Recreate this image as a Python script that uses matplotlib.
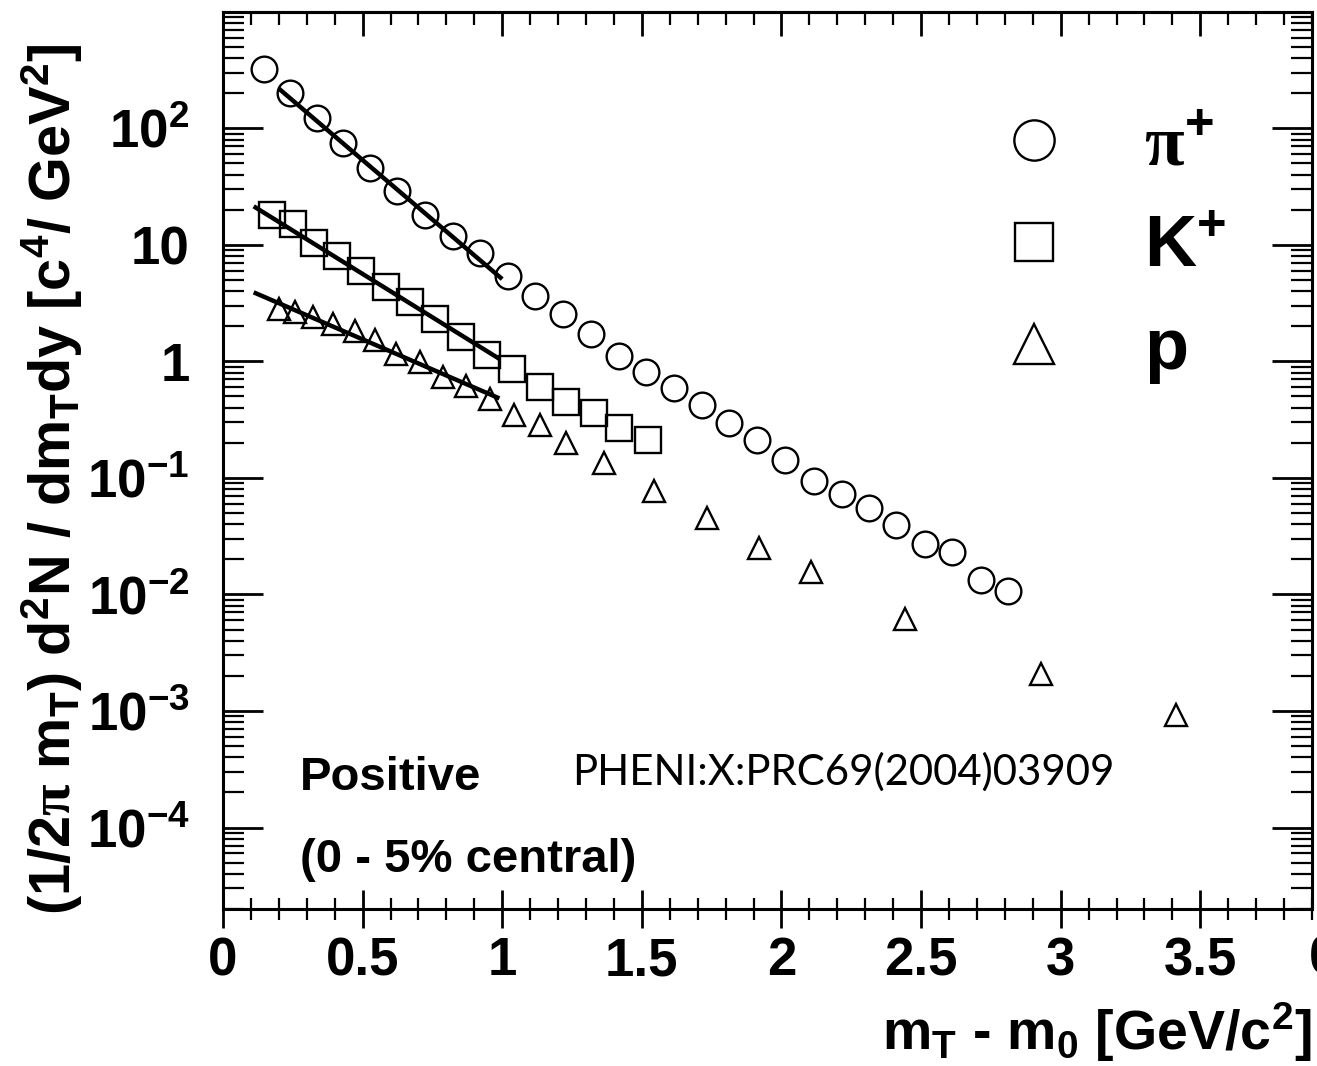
import matplotlib
matplotlib.use('Agg')
import matplotlib.pyplot as plt
from matplotlib.ticker import MultipleLocator, LogLocator, NullFormatter
from matplotlib.lines import Line2D

plt.rcParams.update({
    'font.family': 'Liberation Sans',
    'font.weight': 'bold',
    'mathtext.fontset': 'custom',
    'mathtext.rm': 'Liberation Sans:bold',
    'mathtext.it': 'Liberation Sans:bold',
    'mathtext.bf': 'Liberation Sans:bold',
    'mathtext.sf': 'Liberation Serif',
    'mathtext.default': 'rm',
})

# pi+ spectrum (mT - m0, yield)
pi_x = [0.147, 0.240, 0.335, 0.430, 0.526, 0.623, 0.722, 0.824, 0.919, 1.020,
        1.119, 1.217, 1.319, 1.417, 1.515, 1.617, 1.716, 1.813, 1.912, 2.014,
        2.117, 2.216, 2.314, 2.410, 2.514, 2.612, 2.714, 2.812]
pi_y = [325, 199, 122, 74.5, 45.6, 28.8, 18.2, 11.9, 8.45, 5.42,
        3.66, 2.55, 1.72, 1.12, 0.812, 0.593, 0.421, 0.294, 0.212, 0.143,
        0.0935, 0.0733, 0.0553, 0.0394, 0.0269, 0.0233, 0.0133, 0.0108]

# K+ spectrum
k_x = [0.174, 0.251, 0.325, 0.407, 0.496, 0.585, 0.669, 0.758, 0.854, 0.945,
       1.036, 1.134, 1.229, 1.327, 1.420, 1.521]
k_y = [18.2, 15.0, 10.4, 8.02, 5.97, 4.31, 3.22, 2.31, 1.61, 1.14,
       0.867, 0.605, 0.451, 0.358, 0.267, 0.212]

# proton spectrum
p_x = [0.200, 0.258, 0.323, 0.394, 0.472, 0.544, 0.621, 0.705, 0.788, 0.872,
       0.955, 1.044, 1.134, 1.229, 1.366, 1.544, 1.732, 1.918, 2.105, 2.443,
       2.928, 3.414]
p_y = [2.82, 2.64, 2.39, 2.10, 1.82, 1.51, 1.16, 0.989, 0.736, 0.612,
       0.471, 0.346, 0.284, 0.199, 0.134, 0.0773, 0.0455, 0.0252, 0.0157, 0.00614,
       0.00208, 0.00093]

# exponential fits (straight on log scale), end points
pi_fit_x = [0.20, 1.00]
pi_fit_y = [219, 5.08]
k_fit_x = [0.11, 0.99]
k_fit_y = [21.4, 1.05]
p_fit_x = [0.11, 0.99]
p_fit_y = [3.91, 0.481]

y_ticks = [1e-4, 1e-3, 1e-2, 1e-1, 1, 10, 100]
y_tick_labels = [r'10$^{-4}$', r'10$^{-3}$', r'10$^{-2}$', r'10$^{-1}$', '1', '10', r'10$^{2}$']
x_ticks = [0, 0.5, 1, 1.5, 2, 2.5, 3, 3.5]
x_tick_labels = ['0', '0.5', '1', '1.5', '2', '2.5', '3', '3.5']

fig = plt.figure(figsize=(13.17, 10.66), dpi=100)
fig.patch.set_facecolor('white')
ax = fig.add_axes([0.1693, 0.1473, 0.8269, 0.8417])
ax.set_yscale('log')
ax.set_xlim(0, 3.9)
ax.set_ylim(2e-5, 1000)

mk = dict(linestyle='none', mfc='none', mec='black', mew=1.7)
ax.plot(pi_x, pi_y, marker='o', ms=18.5, **mk)
ax.plot(k_x, k_y, marker='s', ms=19, **mk)
ax.plot(p_x, p_y, marker='^', ms=16.5, **mk)

for fx, fy in [(pi_fit_x, pi_fit_y), (k_fit_x, k_fit_y), (p_fit_x, p_fit_y)]:
    ax.plot(fx, fy, color='black', lw=3.2, solid_capstyle='butt', zorder=5)

# ticks
ax.set_xticks(x_ticks)
ax.set_xticklabels(x_tick_labels)
ax.xaxis.set_minor_locator(MultipleLocator(0.1))
ax.set_yticks(y_ticks)
ax.set_yticklabels(y_tick_labels)
ax.yaxis.set_minor_locator(LogLocator(base=10, subs=range(2, 10), numticks=30))
ax.yaxis.set_minor_formatter(NullFormatter())

ax.tick_params(axis='x', which='major', direction='inout', length=27, width=2, pad=6,
               labelsize=38, bottom=True, top=False)
ax.tick_params(axis='x', which='minor', direction='inout', length=16, width=1.6,
               bottom=True, top=False)
ax.tick_params(axis='y', which='major', direction='in', length=29, width=2, pad=24,
               labelsize=38, left=True, right=True)
ax.tick_params(axis='y', which='minor', direction='in', length=15, width=1.6,
               left=True, right=True)

sec = ax.secondary_xaxis('top')
sec.set_xticks(x_ticks)
sec.xaxis.set_minor_locator(MultipleLocator(0.1))
sec.tick_params(axis='x', which='major', direction='in', length=17, width=2, labeltop=False)
sec.tick_params(axis='x', which='minor', direction='in', length=9, width=1.6)
sec.spines['top'].set_linewidth(2.2)

for s in ax.spines.values():
    s.set_linewidth(2.2)

# partially visible label at the right edge (cut in the original too)
fig.text(1309 / 1317, 1 - 960 / 1066, '0', fontsize=38, ha='left', va='center')

# axis titles
fig.text(52 / 1317, 1 - 480 / 1066,
         r'(1/2$\mathsf{\pi}$ m$_{T}$) d$^{2}$N / dm$_{T}$dy [c$^{4}$/ GeV$^{2}$]',
         rotation=90, ha='center', va='center', fontsize=41.5)
fig.text(1311 / 1317, 1 - 1032 / 1066, r'm$_{T}$ - m$_{0}$ [GeV/c$^{2}$]',
         ha='right', va='center', fontsize=40)

# annotations
ax.text(0.0707, 0.146, 'Positive', transform=ax.transAxes, fontsize=34,
        ha='left', va='center')
ax.text(0.0707, 0.0545, '(0 - 5% central)', transform=ax.transAxes, fontsize=34,
        ha='left', va='center')
ax.text(0.3205, 0.153, 'PHENI:X:PRC69(2004)03909', transform=ax.transAxes,
        fontsize=30.2, fontfamily='Lato', fontweight='normal', ha='left', va='center')

# legend
handles = [
    Line2D([], [], marker='o', ms=29, **mk),
    Line2D([], [], marker='s', ms=28, **mk),
    Line2D([], [], marker='^', ms=29, **mk),
]
labels = [r'$\mathsf{\pi}^{+}$', r'K$^{+}$', 'p']
ax.legend(handles, labels, loc='upper left', bbox_to_anchor=(0.678, 0.928),
          frameon=False, fontsize=52, handlelength=1.0, handletextpad=1.03,
          labelspacing=0.47, borderpad=0)

fig.savefig('out.png', dpi=100, facecolor='white')
